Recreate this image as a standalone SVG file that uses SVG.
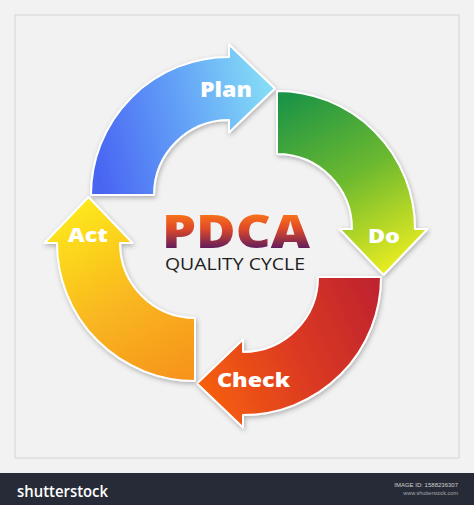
<svg xmlns="http://www.w3.org/2000/svg" width="474" height="505" viewBox="0 0 474 505">
<style>
.arrow{stroke:#ffffff;stroke-width:2;stroke-linejoin:round;filter:url(#sh)}
.lbl{font-family:"Open Sans","Liberation Sans",sans-serif;font-weight:800;fill:#ffffff}
</style>
<defs>
<filter id="sh" x="-20%" y="-20%" width="140%" height="140%">
<feDropShadow dx="1" dy="2" stdDeviation="2.5" flood-color="#000" flood-opacity="0.28"/>
</filter>
<linearGradient id="gPlan" gradientUnits="userSpaceOnUse" x1="95" y1="150" x2="272" y2="110">
<stop offset="0" stop-color="#4a66f3"/><stop offset="0.5" stop-color="#62a0f7"/><stop offset="1" stop-color="#84dbf6"/>
</linearGradient>
<linearGradient id="gDo" gradientUnits="userSpaceOnUse" x1="290" y1="95" x2="385" y2="272">
<stop offset="0" stop-color="#1c9446"/><stop offset="0.5" stop-color="#6cb92f"/><stop offset="1" stop-color="#e8ec22"/>
</linearGradient>
<linearGradient id="gCheck" gradientUnits="userSpaceOnUse" x1="380" y1="300" x2="200" y2="383">
<stop offset="0" stop-color="#c0242e"/><stop offset="0.5" stop-color="#dc3a22"/><stop offset="1" stop-color="#f65f0e"/>
</linearGradient>
<linearGradient id="gAct" gradientUnits="userSpaceOnUse" x1="190" y1="380" x2="88" y2="200">
<stop offset="0" stop-color="#f7921e"/><stop offset="0.5" stop-color="#f9b820"/><stop offset="1" stop-color="#fde71c"/>
</linearGradient>
<linearGradient id="gPdca" gradientUnits="userSpaceOnUse" x1="0" y1="215" x2="0" y2="249">
<stop offset="0" stop-color="#f8711a"/><stop offset="0.4" stop-color="#e04a28"/><stop offset="1" stop-color="#5c1b5e"/>
</linearGradient>
</defs>
<rect x="0" y="0" width="474" height="505" fill="#f2f2f2"/>
<rect x="15" y="15" width="444" height="443" fill="#f2f2f2" stroke="#d4d4d4" stroke-width="1"/>
<g id="connectors"></g>
<g id="plan">
<path class="arrow" fill="url(#gPlan)" d="M 91 195 A 138 138 0 0 1 229 57 L 229 44.5 L 275 88.5 L 229 132.5 L 229 120 A 75 75 0 0 0 154 195 Z"/>
<text class="lbl" x="200" y="97" font-size="21" textLength="52" lengthAdjust="spacingAndGlyphs">Plan</text>
</g>
<g id="do">
<path class="arrow" fill="url(#gDo)" d="M 277 91 A 138 138 0 0 1 415 229 L 427.5 229 L 383.5 275 L 339.5 229 L 352 229 A 75 75 0 0 0 277 154 Z"/>
<text class="lbl" x="368" y="243" font-size="19" textLength="32" lengthAdjust="spacingAndGlyphs">Do</text>
</g>
<g id="check">
<path class="arrow" fill="url(#gCheck)" d="M 381 277 A 138 138 0 0 1 243 415 L 243 427.5 L 197 383.5 L 243 339.5 L 243 352 A 75 75 0 0 0 318 277 Z"/>
<text class="lbl" x="217" y="387" font-size="19" textLength="73" lengthAdjust="spacingAndGlyphs">Check</text>
</g>
<g id="act">
<path class="arrow" fill="url(#gAct)" d="M 195 381 A 138 138 0 0 1 57 243 L 44.5 243 L 88.5 197 L 132.5 243 L 120 243 A 75 75 0 0 0 195 318 Z"/>
<text class="lbl" x="68" y="242" font-size="20" textLength="40" lengthAdjust="spacingAndGlyphs">Act</text>
</g>
<g id="title">
<text x="162" y="248" font-family="'Open Sans','Liberation Sans',sans-serif" font-weight="800" font-size="46" fill="url(#gPdca)" textLength="148" lengthAdjust="spacingAndGlyphs">PDCA</text>
<text x="165" y="270" font-family="'Open Sans','Liberation Sans',sans-serif" font-size="17" fill="#1e1e1e" textLength="140" lengthAdjust="spacingAndGlyphs">QUALITY CYCLE</text>
</g>
<g id="footer">
<rect x="0" y="473" width="474" height="32" fill="#262b37"/>
<text x="17" y="497" font-family="'Open Sans','Liberation Sans',sans-serif" font-weight="600" font-size="17" fill="#ffffff" textLength="91" lengthAdjust="spacingAndGlyphs">shutterstock</text>
<text x="458" y="487" text-anchor="end" font-family="'Liberation Sans',sans-serif" font-size="6" fill="#d0d0d0">IMAGE ID: 1588236307</text>
<text x="458" y="495" text-anchor="end" font-family="'Liberation Sans',sans-serif" font-size="5.5" fill="#a8a8a8">www.shutterstock.com</text>
</g>
</svg>
